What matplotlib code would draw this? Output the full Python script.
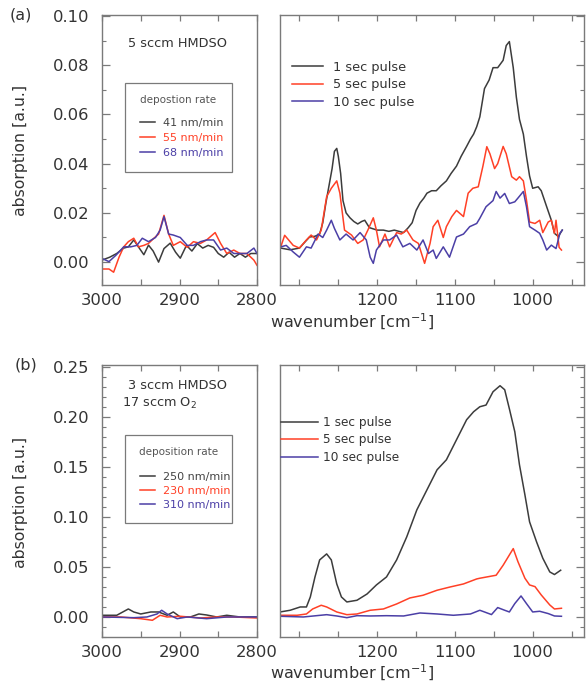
#!/usr/bin/env python3
"""
IR absorption spectra of HMDSO films, two gas mixtures.
(a) 5 sccm HMDSO, (b) 3 sccm HMDSO + 17 sccm O2.
Left: CH stretch region, right: Si-O / Si-CH3 region.
"""

import matplotlib
matplotlib.use("Agg")
import matplotlib.pyplot as plt
from matplotlib.patches import Rectangle
from matplotlib.ticker import MultipleLocator, FixedLocator, FormatStrFormatter

W, H = 586, 687

BLACK = "#3c3c3c"
RED   = "#ff4026"
BLUE  = "#4b3fa6"
SPINE = "#7a7a7a"
TXT   = "#333333"

# ── (a) CH region ──────────────────────────────────────────────────────────────
a_ch_wn_41 = [3000, 2990, 2981, 2972, 2966, 2959, 2953, 2946, 2940, 2934, 2927, 2920,
              2912, 2905, 2899, 2891, 2884, 2877, 2870, 2863, 2856, 2850, 2843, 2836,
              2829, 2822, 2815, 2808, 2800]
a_ch_41 = [0.0008, 0.0020, 0.0035, 0.0057, 0.0062, 0.0090, 0.0062, 0.0030, 0.0069,
           0.0045, 0.0000, 0.0055, 0.0077, 0.0040, 0.0016, 0.0068, 0.0045, 0.0075,
           0.0057, 0.0068, 0.0060, 0.0035, 0.0020, 0.0040, 0.0020, 0.0035, 0.0020,
           0.0035, 0.0035]

a_ch_wn_55 = [3000, 2991, 2985, 2978, 2972, 2966, 2959, 2953, 2946, 2940, 2933, 2927,
              2920, 2914, 2908, 2899, 2890, 2882, 2873, 2865, 2854, 2847, 2839, 2830,
              2822, 2813, 2804, 2800]
a_ch_55 = [-0.0028, -0.0028, -0.0041, 0.0020, 0.0062, 0.0083, 0.0097, 0.0062, 0.0068,
           0.0076, 0.0097, 0.0114, 0.0190, 0.0114, 0.0068, 0.0083, 0.0060, 0.0083,
           0.0076, 0.0090, 0.0120, 0.0076, 0.0035, 0.0049, 0.0035, 0.0035, 0.0008,
           -0.0013]

a_ch_wn_68 = [3000, 2991, 2982, 2972, 2963, 2955, 2948, 2940, 2931, 2925, 2920, 2914,
              2908, 2899, 2890, 2882, 2873, 2865, 2856, 2847, 2839, 2830, 2822, 2813,
              2804, 2800]
a_ch_68 = [0.0015, 0.0002, 0.0028, 0.0062, 0.0062, 0.0068, 0.0097, 0.0083, 0.0100,
           0.0130, 0.0185, 0.0114, 0.0110, 0.0100, 0.0068, 0.0068, 0.0083, 0.0090,
           0.0090, 0.0049, 0.0057, 0.0035, 0.0035, 0.0035, 0.0057, 0.0035]

# ── (a) Si-O region ────────────────────────────────────────────────────────────
a_si_wn_1 = [1324, 1312, 1300, 1292, 1287, 1280, 1274, 1270, 1266, 1262, 1258, 1255,
             1252, 1250, 1247, 1244, 1240, 1235, 1230, 1225, 1220, 1216, 1210, 1200,
             1192, 1185, 1178, 1172, 1166, 1160, 1155, 1150, 1145, 1140, 1136, 1130,
             1124, 1118, 1111, 1105, 1098, 1092, 1085, 1080, 1076, 1072, 1068, 1062,
             1056, 1051, 1045, 1038, 1034, 1030, 1025, 1021, 1017, 1012, 1008, 1004,
             1000, 993, 989, 982, 976, 972, 967, 962]
a_si_1 = [0.0057, 0.0050, 0.0057, 0.0085, 0.0102, 0.0105, 0.0114, 0.0160, 0.0240,
          0.0310, 0.0380, 0.0450, 0.0462, 0.0430, 0.0360, 0.0250, 0.0200, 0.0180,
          0.0165, 0.0155, 0.0165, 0.0170, 0.0140, 0.0130, 0.0130, 0.0125, 0.0130,
          0.0125, 0.0120, 0.0140, 0.0160, 0.0210, 0.0240, 0.0260, 0.0280, 0.0290,
          0.0290, 0.0310, 0.0330, 0.0360, 0.0390, 0.0430, 0.0470, 0.0500, 0.0520,
          0.0550, 0.0590, 0.0705, 0.0740, 0.0790, 0.0790, 0.0820, 0.0880, 0.0896,
          0.0790, 0.0670, 0.0580, 0.0520, 0.0430, 0.0350, 0.0300, 0.0306, 0.0290,
          0.0225, 0.0170, 0.0117, 0.0104, 0.0130]

a_si_wn_5 = [1324, 1319, 1308, 1300, 1291, 1285, 1278, 1272, 1265, 1259, 1252, 1248,
             1242, 1233, 1225, 1218, 1212, 1205, 1201, 1197, 1190, 1184, 1175, 1169,
             1162, 1154, 1147, 1143, 1139, 1132, 1128, 1122, 1115, 1111, 1104, 1098,
             1089, 1083, 1077, 1070, 1064, 1059, 1055, 1049, 1045, 1038, 1034, 1027,
             1021, 1017, 1012, 1008, 1004, 997, 991, 987, 980, 976, 972, 970, 966, 963]
a_si_5 = [0.0062, 0.0109, 0.0068, 0.0057, 0.0090, 0.0110, 0.0090, 0.0130, 0.0266,
          0.0300, 0.0330, 0.0280, 0.0130, 0.0110, 0.0076, 0.0090, 0.0130, 0.0180,
          0.0130, 0.0062, 0.0114, 0.0062, 0.0120, 0.0114, 0.0130, 0.0090, 0.0076,
          0.0035, -0.0005, 0.0076, 0.0144, 0.0170, 0.0100, 0.0144, 0.0185, 0.0210,
          0.0185, 0.0280, 0.0300, 0.0306, 0.0390, 0.0469, 0.0440, 0.0380, 0.0400,
          0.0470, 0.0440, 0.0347, 0.0333, 0.0347, 0.0330, 0.0252, 0.0163, 0.0157,
          0.0170, 0.0120, 0.0163, 0.0170, 0.0117, 0.0170, 0.0060, 0.0049]

a_si_wn_10 = [1324, 1317, 1308, 1300, 1291, 1285, 1276, 1270, 1265, 1259, 1255, 1248,
              1240, 1231, 1222, 1214, 1209, 1205, 1201, 1192, 1184, 1175, 1167, 1158,
              1149, 1141, 1134, 1128, 1124, 1115, 1107, 1098, 1089, 1081, 1072, 1068,
              1060, 1051, 1047, 1042, 1036, 1030, 1023, 1019, 1012, 1008, 1004, 997,
              991, 987, 982, 976, 970, 965, 962]
a_si_10 = [0.0062, 0.0068, 0.0041, 0.0020, 0.0062, 0.0057, 0.0114, 0.0100, 0.0130,
           0.0170, 0.0137, 0.0090, 0.0114, 0.0090, 0.0120, 0.0090, 0.0020, -0.0005,
           0.0049, 0.0090, 0.0090, 0.0110, 0.0062, 0.0076, 0.0049, 0.0090, 0.0035,
           0.0049, 0.0015, 0.0062, 0.0020, 0.0102, 0.0114, 0.0144, 0.0157, 0.0178,
           0.0225, 0.0250, 0.0287, 0.0260, 0.0279, 0.0238, 0.0245, 0.0260, 0.0287,
           0.0225, 0.0144, 0.0130, 0.0117, 0.0090, 0.0049, 0.0069, 0.0055, 0.0117,
           0.0130]

# ── (b) CH region ──────────────────────────────────────────────────────────────
b_ch_wn_250 = [3000, 2981, 2966, 2959, 2950, 2937, 2927, 2916, 2908, 2899, 2886, 2875,
               2865, 2852, 2839, 2822, 2800]
b_ch_250 = [0.0017, 0.0017, 0.0080, 0.0050, 0.0030, 0.0050, 0.0050, 0.0017, 0.0050,
            0.0000, 0.0000, 0.0030, 0.0020, 0.0000, 0.0017, 0.0000, 0.0000]

b_ch_wn_230 = [3000, 2976, 2950, 2935, 2925, 2916, 2899, 2873, 2852, 2830, 2800]
b_ch_230 = [0.0000, 0.0000, -0.0017, -0.0033, 0.0017, 0.0000, 0.0007, -0.0010,
            0.0000, 0.0000, -0.0010]

b_ch_wn_310 = [3000, 2959, 2942, 2929, 2923, 2916, 2903, 2890, 2865, 2839, 2800]
b_ch_310 = [0.0000, -0.0007, 0.0000, 0.0030, 0.0067, 0.0030, -0.0017, 0.0000,
            -0.0017, 0.0000, 0.0000]

# ── (b) Si-O region ────────────────────────────────────────────────────────────
b_si_wn_1 = [1325, 1312, 1299, 1291, 1286, 1280, 1274, 1265, 1259, 1252, 1246, 1239,
             1226, 1213, 1201, 1188, 1175, 1162, 1149, 1136, 1123, 1111, 1098, 1085,
             1076, 1068, 1060, 1051, 1042, 1036, 1030, 1023, 1017, 1010, 1004, 995,
             987, 978, 972, 964]
b_si_1 = [0.0050, 0.0067, 0.0100, 0.0100, 0.0200, 0.0400, 0.0570, 0.0630, 0.0570,
          0.0330, 0.0200, 0.0150, 0.0167, 0.0230, 0.0320, 0.0400, 0.0570, 0.0800,
          0.1070, 0.1270, 0.1470, 0.1570, 0.1770, 0.1970, 0.2050, 0.2100, 0.2117,
          0.2250, 0.2310, 0.2270, 0.2080, 0.1850, 0.1520, 0.1220, 0.0950, 0.0750,
          0.0587, 0.0450, 0.0424, 0.0467]

b_si_wn_5 = [1325, 1303, 1291, 1283, 1272, 1265, 1252, 1239, 1226, 1209, 1192, 1175,
             1158, 1141, 1123, 1106, 1089, 1072, 1068, 1047, 1038, 1025, 1019, 1010,
             1004, 997, 989, 978, 972, 963]
b_si_5 = [0.0017, 0.0017, 0.0030, 0.0080, 0.0117, 0.0100, 0.0050, 0.0023, 0.0030,
          0.0067, 0.0080, 0.0130, 0.0190, 0.0217, 0.0267, 0.0300, 0.0330, 0.0380,
          0.0387, 0.0417, 0.0517, 0.0683, 0.0553, 0.0387, 0.0320, 0.0303, 0.0220,
          0.0120, 0.0080, 0.0087]

b_si_wn_10 = [1325, 1295, 1282, 1265, 1252, 1239, 1226, 1209, 1188, 1166, 1145, 1123,
              1102, 1080, 1068, 1062, 1053, 1045, 1036, 1030, 1023, 1015, 1008, 1000,
              991, 980, 972, 963]
b_si_10 = [0.0007, 0.0000, 0.0010, 0.0023, 0.0010, -0.0007, 0.0013, 0.0010, 0.0013,
           0.0010, 0.0040, 0.0030, 0.0017, 0.0030, 0.0067, 0.0050, 0.0024, 0.0094,
           0.0067, 0.0050, 0.0134, 0.0210, 0.0134, 0.0050, 0.0057, 0.0034, 0.0010,
           0.0007]

# ── figure ─────────────────────────────────────────────────────────────────────
fig = plt.figure(figsize=(W / 100, H / 100), dpi=100)


def px_axes(x0, y0, x1, y1):
    return fig.add_axes([x0 / W, 1 - y1 / H, (x1 - x0) / W, (y1 - y0) / H])


def style(ax, left_panel, ymajor, yminor):
    for s in ax.spines.values():
        s.set_color(SPINE)
        s.set_linewidth(1.0)
    ax.tick_params(which="both", direction="in", colors=SPINE, labelcolor=TXT,
                   labelsize=11.8, top=True, bottom=True,
                   left=left_panel, right=not left_panel, labelleft=left_panel)
    ax.yaxis.set_tick_params(which="major", length=5.5, width=0.9, pad=9)
    ax.yaxis.set_tick_params(which="minor", length=3, width=0.8)
    ax.xaxis.set_tick_params(which="both", length=4.5, width=0.9, pad=6)
    ax.yaxis.set_major_locator(MultipleLocator(ymajor))
    ax.yaxis.set_minor_locator(MultipleLocator(yminor))
    ax.yaxis.set_major_formatter(FormatStrFormatter("%.2f"))
    ax.xaxis.set_minor_locator(MultipleLocator(50))
    if left_panel:
        ax.set_xlim(3000, 2800)
        ax.xaxis.set_major_locator(MultipleLocator(100))
    else:
        ax.set_xlim(1325, 934)
        ax.xaxis.set_major_locator(FixedLocator([1200, 1100, 1000]))


def box_legend(ax, rect, title, title_y, entry_anchor, spacing):
    x0, y0, x1, y1 = rect
    ax.add_patch(Rectangle((x0, y0), x1 - x0, y1 - y0, transform=ax.transAxes,
                           fill=False, edgecolor=SPINE, linewidth=0.9, zorder=5))
    ax.text((x0 + x1) / 2, title_y, title, transform=ax.transAxes,
            ha="center", va="center", fontsize=7.5, color="#555555")
    leg = ax.legend(loc="upper left", bbox_to_anchor=entry_anchor, frameon=False,
                    borderpad=0, borderaxespad=0, fontsize=8, handlelength=1.35,
                    handletextpad=0.7, labelspacing=spacing)
    for t, l in zip(leg.get_texts(), leg.get_lines()):
        t.set_color(l.get_color())
    leg.get_texts()[0].set_color("#444444")


def pulse_legend(ax, anchor, fs, hl, hp, sp):
    leg = ax.legend(loc="upper left", bbox_to_anchor=anchor, frameon=False,
                    borderpad=0, borderaxespad=0, fontsize=fs, handlelength=hl,
                    handletextpad=hp, labelspacing=sp)
    for t in leg.get_texts():
        t.set_color(TXT)


LW = 1.1

# ── (a) ────────────────────────────────────────────────────────────────────────
ax_a1 = px_axes(102, 15, 257, 285)
ax_a2 = px_axes(280, 15, 584, 285)

ax_a1.plot(a_ch_wn_41, a_ch_41, color=BLACK, lw=LW, label="41 nm/min")
ax_a1.plot(a_ch_wn_55, a_ch_55, color=RED, lw=LW, label="55 nm/min")
ax_a1.plot(a_ch_wn_68, a_ch_68, color=BLUE, lw=LW, label="68 nm/min")
style(ax_a1, True, 0.02, 0.01)
ax_a1.set_ylim(-0.0093, 0.1004)
ax_a1.text(0.168, 0.896, "5 sccm HMDSO", transform=ax_a1.transAxes,
           ha="left", va="center", fontsize=9.3, color=TXT)
box_legend(ax_a1, (0.148, 0.419, 0.839, 0.748), "depostion rate", 0.685,
           (0.245, 0.619), 0.45)

ax_a2.plot(a_si_wn_1, a_si_1, color=BLACK, lw=LW, label="1 sec pulse")
ax_a2.plot(a_si_wn_5, a_si_5, color=RED, lw=LW, label="5 sec pulse")
ax_a2.plot(a_si_wn_10, a_si_10, color=BLUE, lw=LW, label="10 sec pulse")
style(ax_a2, False, 0.02, 0.01)
ax_a2.set_ylim(-0.0093, 0.1004)
pulse_legend(ax_a2, (0.039, 0.831), 9.3, 2.4, 0.78, 0.35)

# ── (b) ────────────────────────────────────────────────────────────────────────
ax_b1 = px_axes(102, 365, 257, 637)
ax_b2 = px_axes(280, 365, 584, 637)

ax_b1.plot(b_ch_wn_250, b_ch_250, color=BLACK, lw=LW, label="250 nm/min")
ax_b1.plot(b_ch_wn_230, b_ch_230, color=RED, lw=LW, label="230 nm/min")
ax_b1.plot(b_ch_wn_310, b_ch_310, color=BLUE, lw=LW, label="310 nm/min")
style(ax_b1, True, 0.05, 0.01)
ax_b1.set_ylim(-0.020, 0.2517)
ax_b1.text(0.168, 0.926, "3 sccm HMDSO", transform=ax_b1.transAxes,
           ha="left", va="center", fontsize=9.3, color=TXT)
ax_b1.text(0.129, 0.860, "17 sccm O$_2$", transform=ax_b1.transAxes,
           ha="left", va="center", fontsize=9.3, color=TXT)
box_legend(ax_b1, (0.148, 0.419, 0.839, 0.743), "deposition rate", 0.680,
           (0.245, 0.607), 0.37)

ax_b2.plot(b_si_wn_1, b_si_1, color=BLACK, lw=LW, label="1 sec pulse")
ax_b2.plot(b_si_wn_5, b_si_5, color=RED, lw=LW, label="5 sec pulse")
ax_b2.plot(b_si_wn_10, b_si_10, color=BLUE, lw=LW, label="10 sec pulse")
style(ax_b2, False, 0.05, 0.01)
ax_b2.set_ylim(-0.020, 0.2517)
pulse_legend(ax_b2, (0.003, 0.8125), 8.7, 3.1, 0.4, 0.37)

# ── labels ─────────────────────────────────────────────────────────────────────
for lbl, x_lab, y_lab, y_ab, y_wn in [("(a)", 10, 15, 150, 322),
                                      ("(b)", 15, 365, 502, 673)]:
    fig.text(x_lab / W, 1 - y_lab / H, lbl,
             ha="left", va="center", fontsize=11.5, color=TXT)
    fig.text(21 / W, 1 - y_ab / H, "absorption [a.u.]", rotation=90,
             ha="center", va="center", fontsize=11.3, color=TXT)
    fig.text(352 / W, 1 - y_wn / H, "wavenumber [cm$^{-1}$]",
             ha="center", va="center", fontsize=11.5, color=TXT)

fig.savefig("out.png", dpi=100)
